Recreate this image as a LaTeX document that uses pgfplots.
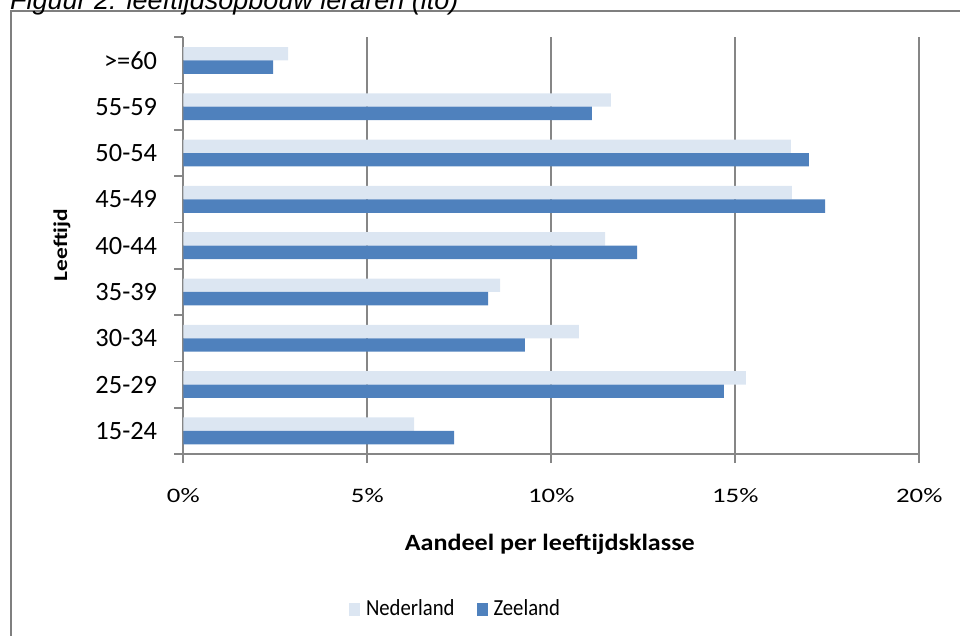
\documentclass[border=0pt]{standalone}
\usepackage{pgfplots}
\usepackage{pgfplotstable}
\pgfplotsset{compat=1.18}
\usepackage{fontspec}
\setmainfont{Carlito}
\newfontfamily\titlefont{Liberation Sans}
\newfontfamily\ytickfont{Carlito}
\newfontfamily\xtickfont[FakeStretch=1.3]{Carlito}
\newfontfamily\xlabelfont[FakeStretch=1.12]{Carlito}
\newfontfamily\ylabelfont[FakeStretch=1.2]{Carlito}
\newfontfamily\legendfont[FakeStretch=0.9]{Carlito}

\definecolor{nlblue}{HTML}{DCE6F2}
\definecolor{zlblue}{HTML}{4F81BD}
\definecolor{axgray}{HTML}{868686}
\definecolor{framegray}{HTML}{7F7F7F}

% share of teachers per age class (%), 15-24 at the bottom
\pgfplotstableread{
pos Nederland Zeeland
0   6.27   7.36
1  15.29  14.69
2  10.75   9.28
3   8.61   8.28
4  11.46  12.33
5  16.54  17.44
6  16.51  17.00
7  11.62  11.10
8   2.85   2.44
}\leeftijd

\begin{document}
\begin{tikzpicture}
    \useasboundingbox (0,0) rectangle (960pt,635pt);
    \clip (0,0) rectangle (960pt,635pt);

    % frame of the chart area, runs off the page
    \draw[framegray, line width=2pt] (11pt,-10pt) -- (11pt,624pt) -- (1000pt,624pt);
    \node[font=\titlefont\itshape\fontsize{27}{32}\selectfont, anchor=base west, inner sep=0pt]
        at (10pt,625.5pt) {Figuur 2:  leeftijdsopbouw leraren (ito)};

    \begin{axis}[
        at={(183.3pt,181pt)}, anchor=south west,
        scale only axis,
        width=736pt, height=416.7pt,
        xmin=0, xmax=20,
        ymin=-0.5, ymax=8.5,
        axis x line*=bottom, axis y line*=left,
        axis line style={axgray, line width=2pt, -},
        xmajorgrids=true,
        major grid style={axgray, line width=1.8pt},
        tick align=outside,
        major tick length=9pt,
        tick style={axgray, line width=1.8pt},
        xtick={0,5,10,15,20},
        xticklabels={0\%,5\%,10\%,15\%,20\%},
        xticklabel style={font=\xtickfont\fontsize{20.6}{24}\selectfont,
            inner sep=0pt, anchor=north, yshift=-25pt},
        ytick={-0.5,0.5,1.5,2.5,3.5,4.5,5.5,6.5,7.5,8.5},
        yticklabels={,,,,,,,,,},
        extra y ticks={0,1,2,3,4,5,6,7,8},
        extra y tick labels={15-24,25-29,30-34,35-39,40-44,45-49,50-54,55-59,>=60},
        extra y tick style={major tick length=0pt,
            yticklabel style={font=\ytickfont\fontsize{26.4}{30}\selectfont,
                anchor=east, inner sep=0pt, xshift=-26pt}},
        xlabel={Aandeel per leeftijdsklasse},
        xlabel style={at={(axis description cs:0.498,-0.216)}, anchor=center,
            inner sep=0pt, font=\xlabelfont\bfseries\fontsize{23.3}{28}\selectfont},
        ylabel={Leeftijd},
        ylabel style={at={(axis description cs:-0.1648,0.5016)}, anchor=center,
            inner sep=0pt, font=\ylabelfont\bfseries\fontsize{19.5}{24}\selectfont},
        legend columns=2,
        legend image code/.code={
            \path (-22pt,0pt) (17pt,0pt);
            \fill[#1] (0pt,-8pt) rectangle (11pt,5pt);
        },
        legend style={at={(axis description cs:0.3535,-0.3696)}, anchor=center,
            draw=none, fill=none, inner sep=0pt,
            font=\legendfont\fontsize{23}{27}\selectfont,
            nodes={inner sep=0pt}},
    ]
    \addplot[xbar, bar width=0.29, bar shift=0.145, fill=nlblue, draw=none]
        table[x=Nederland, y=pos] {\leeftijd};
    \addlegendentry{Nederland}
    \addplot[xbar, bar width=0.29, bar shift=-0.145, fill=zlblue, draw=none]
        table[x=Zeeland, y=pos] {\leeftijd};
    \addlegendentry{Zeeland}
    \end{axis}

\end{tikzpicture}
\end{document}
